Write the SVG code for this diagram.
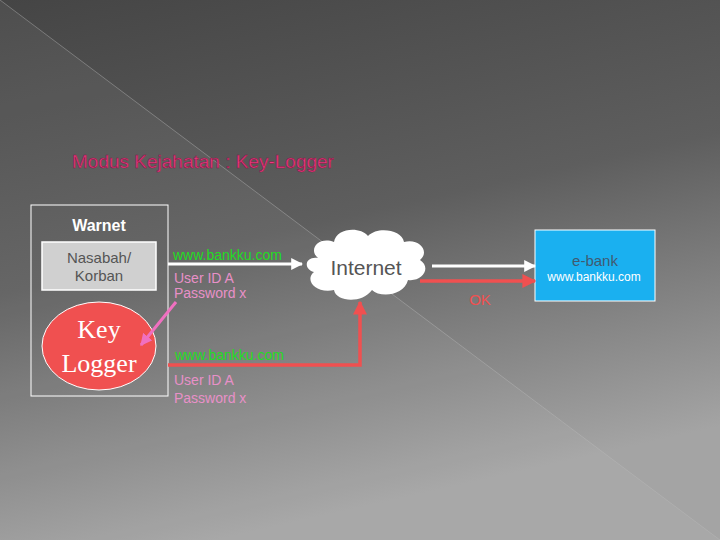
<svg xmlns="http://www.w3.org/2000/svg" width="720" height="540" viewBox="0 0 720 540">
<defs>
<linearGradient id="bg" x1="0" y1="0" x2="0.3" y2="1"><stop offset="0" stop-color="#454545"/><stop offset="0.5" stop-color="#5e5e5e"/><stop offset="1" stop-color="#a4a4a4"/></linearGradient>
<marker id="aw" viewBox="0 0 10 10" refX="9" refY="5" markerWidth="4" markerHeight="4" orient="auto"><path d="M0,0L10,5L0,10z" fill="#fff"/></marker>
<marker id="ar" viewBox="0 0 10 10" refX="9" refY="5" markerWidth="4" markerHeight="4" orient="auto"><path d="M0,0L10,5L0,10z" fill="#f05050"/></marker>
<marker id="ap" viewBox="0 0 10 10" refX="9" refY="5" markerWidth="4" markerHeight="4" orient="auto"><path d="M0,0L10,5L0,10z" fill="#f070c0"/></marker>
<style>
.s{font-family:"Liberation Sans",Arial,sans-serif}
.g{fill:#22dd22;font-size:14px}
.p{fill:#e890c8;font-size:14px}
</style>
</defs>
<rect width="720" height="540" fill="url(#bg)"/>
<path d="M0,0L720,540L0,540z" fill="#fff" opacity="0.05"/>
<line x1="0" y1="0" x2="720" y2="540" stroke="#bbb" stroke-width="0.7" opacity="0.6"/>
<text class="s" x="72" y="168" font-size="19" fill="#f03880" stroke="#801a44" stroke-width="0.5">Modus Kejahatan : Key-Logger</text>
<g id="warnet">
<rect x="31" y="205" width="137" height="191" fill="none" stroke="#fff" stroke-width="1"/>
<text class="s" x="99" y="231" font-size="16" font-weight="bold" fill="#fff" text-anchor="middle">Warnet</text>
</g>
<g id="nasabah">
<rect x="42" y="242" width="114" height="48" fill="#d0d0d0" stroke="#fff" stroke-width="1.5"/>
<text class="s" x="99" y="263" font-size="15" fill="#555" text-anchor="middle">Nasabah/</text>
<text class="s" x="99" y="281" font-size="15" fill="#555" text-anchor="middle">Korban</text>
</g>
<g id="keylogger">
<ellipse cx="99" cy="346" rx="57" ry="44" fill="#f05050" stroke="#fff" stroke-width="1"/>
<text x="99" y="338" font-family="Liberation Serif,serif" font-size="26" fill="#fff" text-anchor="middle">Key</text>
<text x="99" y="372" font-family="Liberation Serif,serif" font-size="26" fill="#fff" text-anchor="middle">Logger</text>
</g>
<g id="internet">
<path d="M318,258 C308,250 318,236 334,242 C336,228 360,226 368,236 C378,226 402,230 404,242 C420,238 430,252 420,260 C432,268 422,282 408,280 C404,296 380,298 372,290 C362,304 336,302 334,290 C316,294 304,280 314,272 C302,268 306,256 318,258z" fill="#fff"/>
<text class="s" x="366" y="275" font-size="21" fill="#555" text-anchor="middle">Internet</text>
</g>
<g id="ebank">
<rect x="535" y="230" width="120" height="71" fill="#1ab0f0" stroke="#fff" stroke-width="1"/>
<text class="s" x="595" y="266" font-size="15" fill="#405a70" text-anchor="middle">e-bank</text>
<text class="s" x="594" y="281" font-size="12" fill="#fff" text-anchor="middle">www.bankku.com</text>
</g>
<g id="connectors">
<line x1="168" y1="264" x2="302" y2="264" stroke="#fff" stroke-width="3" marker-end="url(#aw)"/>
<line x1="176" y1="302" x2="141" y2="345" stroke="#f070c0" stroke-width="3" marker-end="url(#ap)"/>
<path d="M168,365 H360 V302" fill="none" stroke="#f05050" stroke-width="3.5" marker-end="url(#ar)"/>
<line x1="432" y1="266" x2="535" y2="266" stroke="#fff" stroke-width="3" marker-end="url(#aw)"/>
<line x1="420" y1="281" x2="535" y2="281" stroke="#f05050" stroke-width="3.5" marker-end="url(#ar)"/>
</g>
<text class="s g" x="173" y="260">www.bankku.com</text>
<text class="s p" x="174" y="283">User ID A</text>
<text class="s p" x="174" y="298">Password x</text>
<text class="s g" x="175" y="360">www.bankku.com</text>
<text class="s p" x="174" y="385">User ID A</text>
<text class="s p" x="174" y="403">Password x</text>
<text class="s" x="480" y="305" font-size="15" fill="#f05050" text-anchor="middle">OK</text>
</svg>
